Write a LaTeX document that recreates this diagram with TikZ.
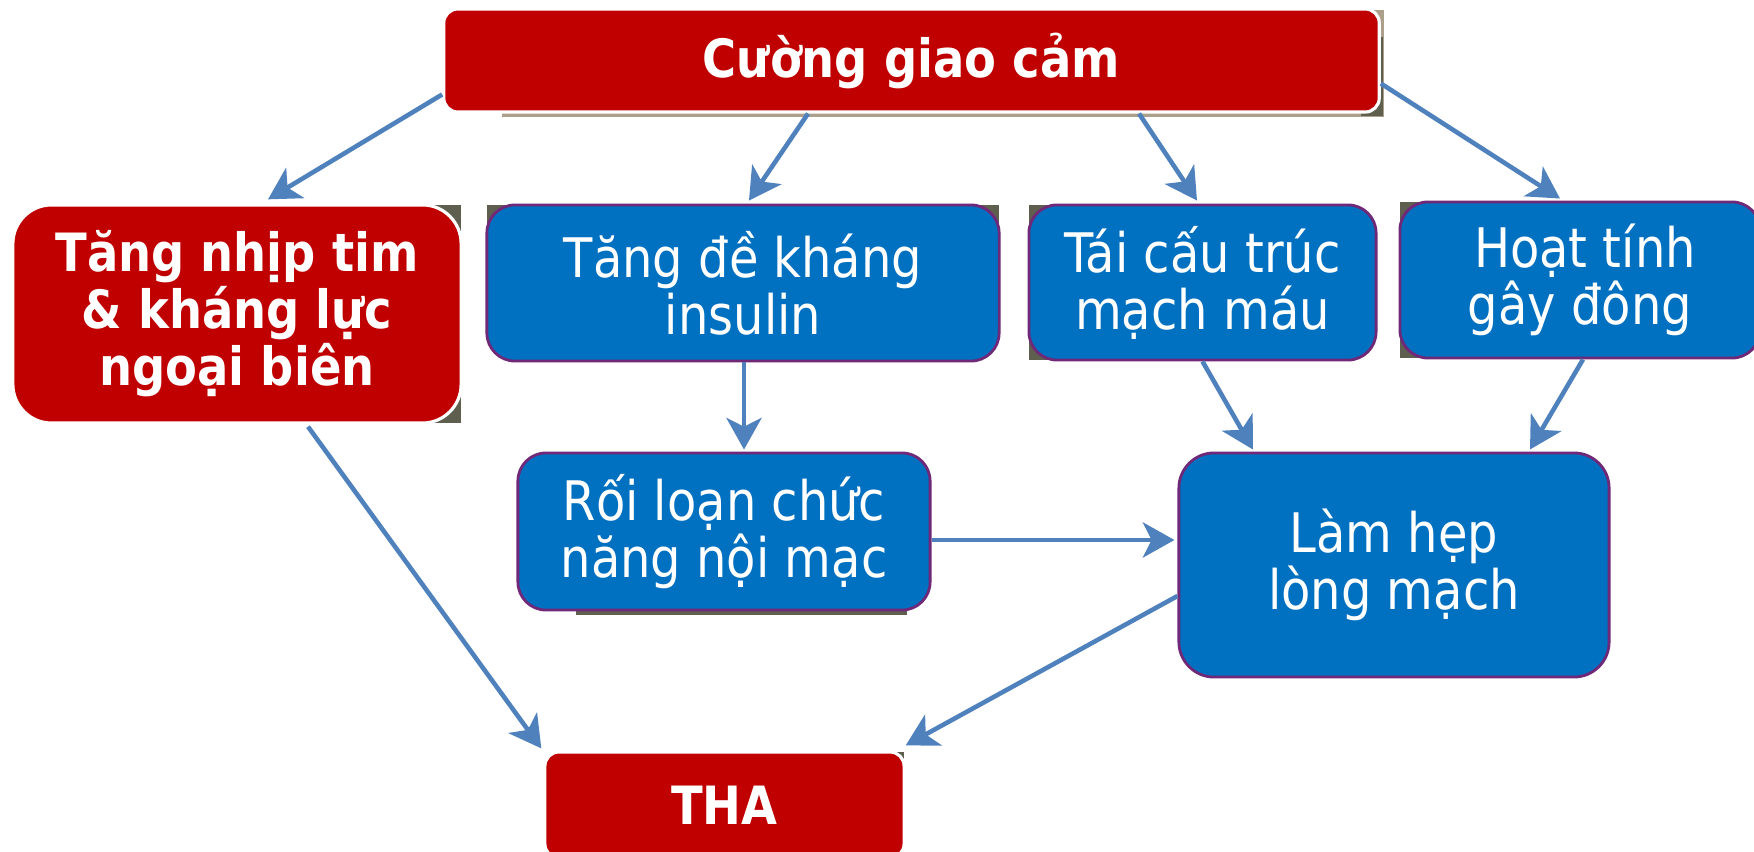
\documentclass[tikz,border=0pt]{standalone}
\usepackage{fontspec}
\setmainfont{DejaVu Sans}
\newfontfamily\boxfont[FakeStretch=0.88]{DejaVu Sans}
\usetikzlibrary{calc,arrows.meta,backgrounds}
\definecolor{boxred}{RGB}{192,0,0}
\definecolor{boxblue}{RGB}{0,112,192}
\definecolor{boxrim}{RGB}{112,40,120}
\definecolor{arrowblue}{RGB}{79,129,189}
\definecolor{shade}{RGB}{95,95,80}
\definecolor{tan}{RGB}{170,160,140}
\tikzset{
  redbox/.style={fill=boxred, draw=white, line width=0.9pt, text=white,
    font=\boxfont\bfseries\fontsize{15}{16.2}\selectfont, align=center, inner sep=0pt},
  bluebox/.style={fill=boxblue, draw=boxrim, line width=0.8pt, text=white,
    font=\boxfont\fontsize{15.5}{16.2}\selectfont, align=center, inner sep=0pt,
    rounded corners=8pt},
  flow/.style={draw=arrowblue, line width=1.3pt,
    -{Stealth[length=9pt,width=10pt,inset=2.5pt]}},
  backrect/.style={fill=shade}
}
\begin{document}
\begin{tikzpicture}[x=0.01cm,y=-0.01cm]
\useasboundingbox (0,0) rectangle (1754,852);
\clip (0,0) rectangle (1754,852);

% nodes
\node[redbox, rounded corners=4pt, minimum width=9.35cm, minimum height=1.03cm]
  (top) at (911.5,60.5) {Cường giao cảm};
\node[redbox, rounded corners=11pt, minimum width=4.48cm, minimum height=2.18cm]
  (left) at (237,314) {Tăng nhịp tim\\ \& kháng lực\\ ngoại biên};
\node[bluebox, minimum width=5.12cm, minimum height=1.56cm]
  (b1) at (743,283) {Tăng đề kháng\\ insulin};
\node[bluebox, minimum width=3.47cm, minimum height=1.55cm]
  (b2) at (1202.5,282.5) {Tái cấu trúc\\ mạch máu};
\node[bluebox, minimum width=3.60cm, minimum height=1.56cm]
  (b3) at (1580,280) {\hspace*{0.1cm}Hoạt tính\\ gây đông};
\node[bluebox, minimum width=4.12cm, minimum height=1.57cm]
  (b4) at (724,531.5) {Rối loạn chức\\ năng nội mạc};
\node[bluebox, rounded corners=10pt, minimum width=4.30cm, minimum height=2.24cm]
  (b5) at (1394,565) {Làm hẹp\\ lòng mạch};
\node[redbox, rounded corners=4pt, minimum width=3.59cm, minimum height=1.06cm]
  (tha) at (724.5,805) {THA};

% dark backing rectangles peeking out at the corners
\begin{scope}[on background layer]
  \fill[tan] ($(top.north west)+(60,3)$) rectangle ($(top.south east)+(3,3)$);
  \fill[backrect] ($(top.north east)+(-20,30)$) rectangle ($(top.south east)+(2,2)$);
  \fill[backrect] ($(left.north west)+(60,1.5)$) rectangle ($(left.south east)+(-1.5,-1.5)$);
  \fill[backrect] ($(b1.north west)+(1.5,1.5)$) rectangle ($(b1.east)+(-1.5,0)$);
  \fill[backrect] ($(b2.north west)+(1.5,1.5)$) rectangle ($(b2.south)+(0,-1.5)$);
  \fill[backrect] ($(b3.north west)+(1.5,1.5)$) rectangle ($(b3.south)+(0,-1.5)$);
  \fill[backrect] ($(b4.south west)+(60,-30)$) rectangle ($(b4.south east)+(-25,4)$);
  \fill[backrect] ($(tha.north)+(0,1.5)$) rectangle ($(tha.east)+(-1.5,0)$);
\end{scope}

% connectors
\draw[flow] ($(top.west)+(0,34)$) -- ($(left.north)+(31,-4)$);
\draw[flow] ($(top.south)+(-103.5,0)$) -- ($(b1.north)+(6,-3)$);
\draw[flow] ($(top.south)+(227.5,0)$) -- ($(b2.north)+(-5.5,-3)$);
\draw[flow] ($(top.east)+(0,23)$) -- ($(b3.north)+(-20,-2)$);
\draw[flow] ($(b1.south)+(1,0)$) -- ($(b4.north)+(20,-2)$);
\draw[flow] (b2.south) -- ($(b5.north)+(-141,-2)$);
\draw[flow] ($(b3.south)+(3,0)$) -- ($(b5.north)+(136,-2)$);
\draw[flow] ($(b4.east)+(0,8.5)$) -- ($(b5.west)+(-3,-25)$);
\draw[flow] ($(b5.west)+(0,31)$) -- ($(tha.north east)+(0,-5)$);
\draw[flow] ($(left.south)+(71,2)$) -- ($(tha.north west)+(-2,-2)$);
\end{tikzpicture}
\end{document}
